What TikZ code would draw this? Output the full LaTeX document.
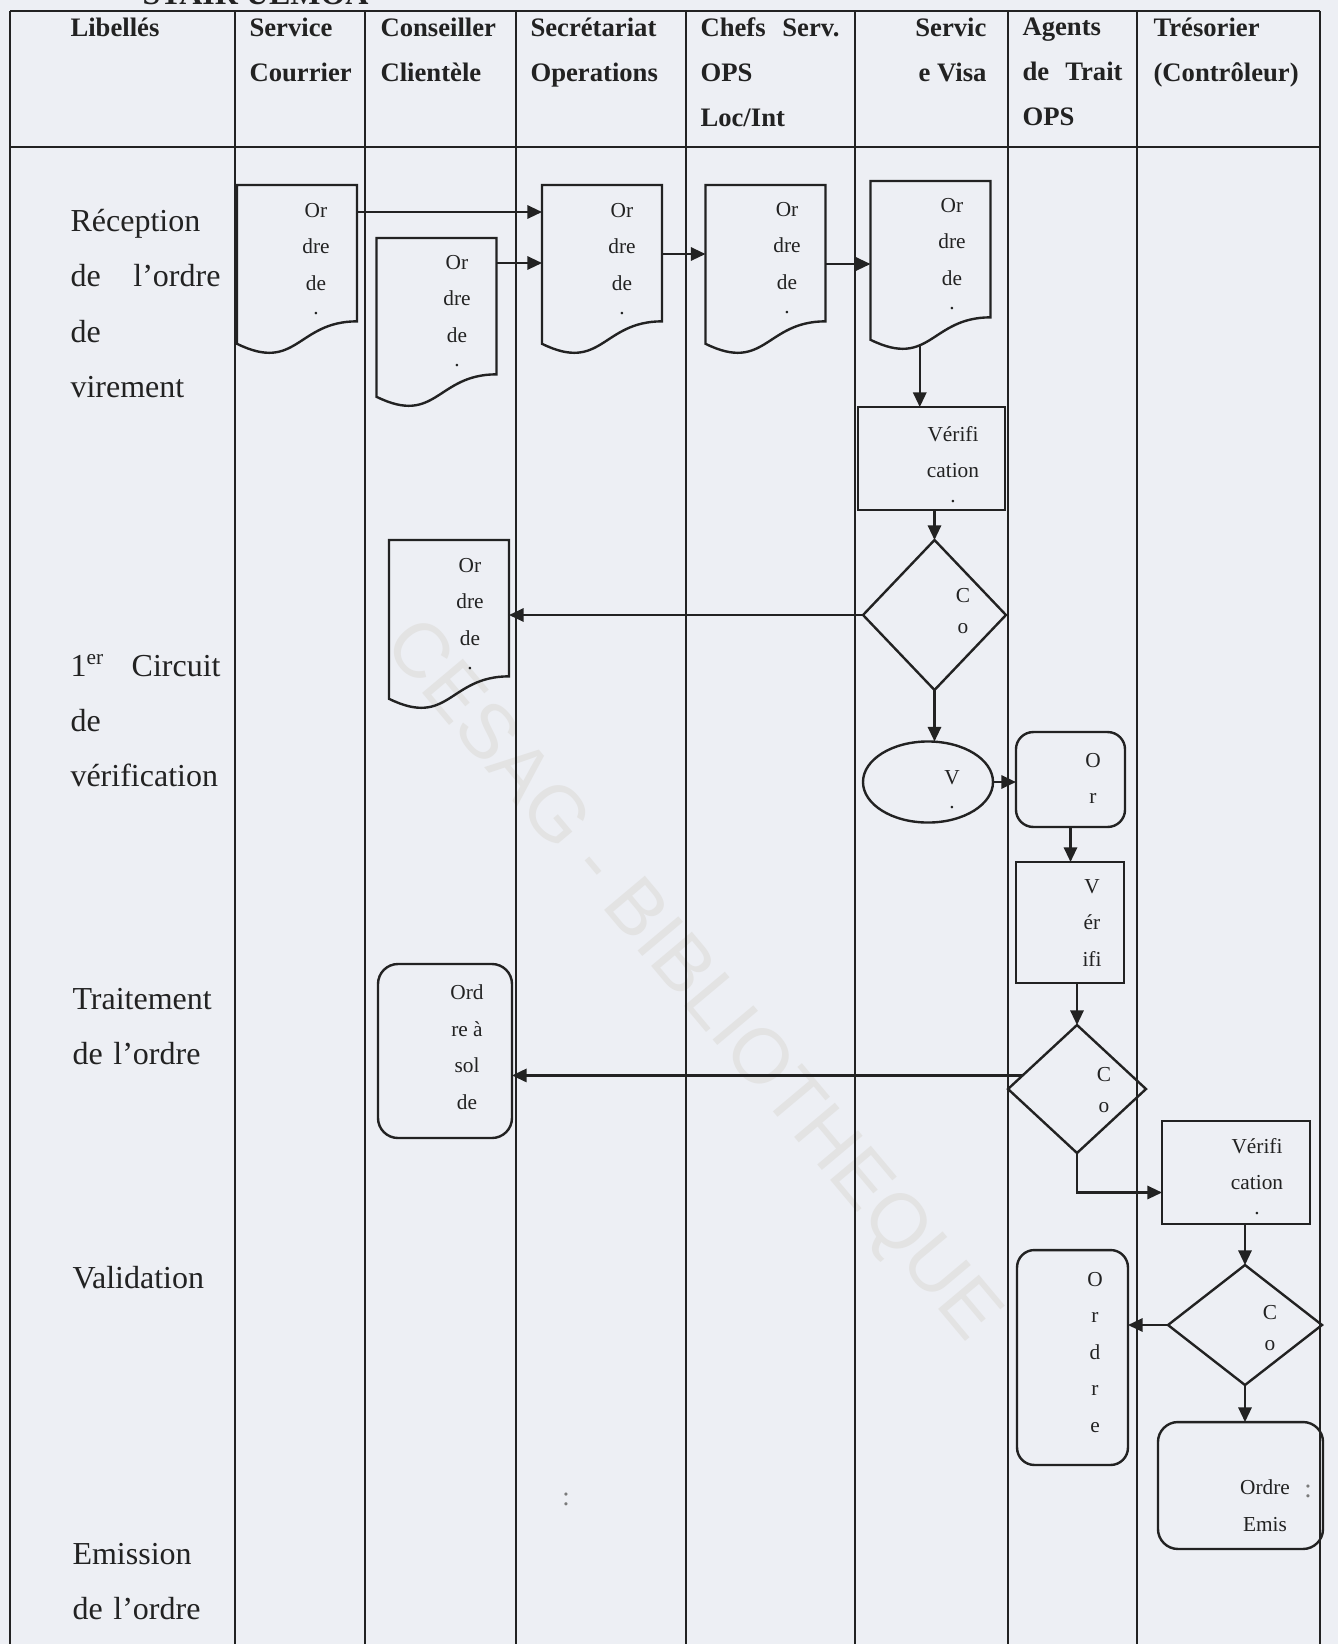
\documentclass[tikz,border=0pt]{standalone}
\usepackage{fontspec}
\setmainfont{Liberation Serif}
\newfontfamily\wmfont{Liberation Sans}
\usepackage{tikz}
\usetikzlibrary{positioning,arrows.meta,shapes.geometric,calc}
\definecolor{paper}{RGB}{237,239,244}
\definecolor{ink}{RGB}{34,34,34}
\newcommand{\docshape}[1]{%
  \draw[shp] (#1.north west) -- (#1.north east)
    -- ($(#1.north east)!0.802!(#1.south east)$)
    .. controls ($(#1.north)!0.802!(#1.south)$) and ($(#1.north)!1.107!(#1.south)$)
    .. coordinate[pos=0.617] (#1-foot) ($(#1.north west)!0.934!(#1.south west)$) -- cycle;}

\begin{document}
\begin{tikzpicture}[
  x=0.375pt, y=-0.375pt,
  tabline/.style={draw=ink,line width=0.8pt},
  shp/.style={draw=ink,line width=0.9pt},
  doc/.style={minimum width=45pt,minimum height=63.75pt,inner sep=0,outer sep=0},
  proc/.style={shp,rectangle,inner sep=0,outer sep=0},
  dec/.style={shp,diamond,inner sep=0,outer sep=0},
  oval/.style={shp,ellipse,inner sep=0,outer sep=0},
  term/.style={shp,rectangle,rounded corners=6.5pt,inner sep=0,outer sep=0},
  flow/.style={draw=ink,line width=0.8pt,-{Triangle[length=5.5pt,width=5pt]}},
  txt/.style={text=ink,font=\fontsize{8}{13.7}\selectfont,align=center,inner sep=0,anchor=north},
  dtxt/.style={txt,font=\fontsize{8}{11.7}\selectfont},
  hdr/.style={text=ink,font=\fontsize{10}{16.9}\selectfont\bfseries,align=left,inner sep=0,anchor=north west},
  lib/.style={text=ink,font=\fontsize{12}{20.7}\selectfont,align=left,text width=56.25pt,inner sep=0,anchor=north west},
  wm/.style={text=gray!22,font=\wmfont\fontsize{29}{36}\selectfont,rotate=-50,inner sep=0},
]
  \fill[paper] (0,0) rectangle (1338,1644);
  \useasboundingbox (0,0) rectangle (1338,1644);

  \node[wm] (wmk) at (690,982) {CESAG - BIBLIOTHEQUE};

  \node[text=ink,font=\fontsize{12}{14}\selectfont\bfseries,inner sep=0,anchor=base west] (ttl) at (142,4) {STAIR UEMOA};

  \foreach \x in {10,235,365,516,686,855,1008,1137,1320}
    \draw[tabline] (\x,11) -- (\x,1650);
  \draw[tabline] (10,11) -- (1320,11);
  \draw[tabline] (10,147) -- (1320,147);

  \node[hdr] (hLib) at (70,17) {Libellés};
  \node[hdr] (hCour) at (249,17) {Service\\Courrier};
  \node[hdr] (hCons) at (380,17) {Conseiller\\Clientèle};
  \node[hdr] (hSec) at (530,17) {Secrétariat\\Operations};
  \node[hdr,text width=52.1pt] (hChef) at (700,17) {Chefs\hfill Serv.\\OPS\\Loc/Int};
  \node[hdr,anchor=north east,align=right] (hVisa) at (987,17) {Servic\\e Visa};
  \node[hdr,text width=37.5pt] (hAgt) at (1022,17) {Agents\\de\hfill Trait\\OPS};
  \node[hdr] (hTres) at (1153,17) {Trésorier\\(Contrôleur)};

  \node[lib] (lRec) at (70,209) {Réception\\de\hfill l’ordre\\de\\virement};
  \node[lib] (lCirc) at (70,654) {1\textsuperscript{er}\hfill Circuit\\de\\vérification};
  \node[lib] (lTrt) at (72,988) {Traitement\\de l’ordre};
  \node[lib] (lVal) at (72,1266) {Validation};
  \node[lib] (lEmi) at (72,1543) {Emission\\de l’ordre};

  \node[doc] (docA) at (297,270) {};
  \node[doc] (docB) at (436.5,323) {};
  \node[doc] (docC) at (602,270) {};
  \node[doc] (docD) at (765.5,270) {};
  \node[doc] (docE) at (930.5,266) {};
  \node[doc] (docF) at (449,625) {};
  \docshape{docA}
  \docshape{docB}
  \docshape{docC}
  \docshape{docD}
  \docshape{docE}
  \docshape{docF}

  \node[proc,minimum width=55.1pt,minimum height=38.6pt] (v1) at (931.5,458.5) {};
  \node[dec,minimum width=53.6pt,minimum height=56.25pt] (d1) at (934.5,615) {};
  \node[oval,minimum width=48.75pt,minimum height=30.4pt] (ell) at (928,782) {};
  \node[term,minimum width=40.9pt,minimum height=35.6pt] (r1) at (1070.5,779.5) {};
  \node[proc,minimum width=40.5pt,minimum height=45.4pt] (v2) at (1070,922.5) {};
  \node[dec,minimum width=51.75pt,minimum height=48pt] (d2) at (1077,1089) {};
  \node[term,minimum width=50.25pt,minimum height=65.25pt,rounded corners=7.5pt] (sol) at (445,1051) {};
  \node[proc,minimum width=55.5pt,minimum height=38.6pt] (v3) at (1236,1172.5) {};
  \node[dec,minimum width=57.75pt,minimum height=45pt] (d3) at (1245,1325) {};
  \node[term,minimum width=41.6pt,minimum height=80.6pt] (r3) at (1072.5,1357.5) {};
  \node[term,minimum width=61.9pt,minimum height=47.6pt,rounded corners=7.5pt] (emis) at (1240.5,1485.5) {};

  \node[txt] (tA) at (316,202.5) {Or\\dre\\de\\[-4.5pt].};
  \node[txt] (tB) at (457,254.5) {Or\\dre\\de\\[-4.5pt].};
  \node[txt] (tC) at (622,202.5) {Or\\dre\\de\\[-4.5pt].};
  \node[txt] (tD) at (787,201.5) {Or\\dre\\de\\[-4.5pt].};
  \node[txt] (tE) at (952,197.5) {Or\\dre\\de\\[-4.5pt].};
  \node[txt] (tF) at (470,557.5) {Or\\dre\\de\\[-4.5pt].};
  \node[txt] (tV1) at (953,425.5) {Vérifi\\cation\\[-4.5pt].};
  \node[dtxt] (tD1) at (963,587.5) {C\\o};
  \node[txt] (tEll) at (952,769.5) {V\\[-4.5pt].};
  \node[txt] (tR1) at (1093,752.5) {O\\r};
  \node[txt] (tV2) at (1092,878.5) {V\\ér\\ifi};
  \node[dtxt] (tD2) at (1104,1066.5) {C\\o};
  \node[txt] (tSol) at (467,984.5) {Ord\\re à\\sol\\de};
  \node[txt] (tV3) at (1257,1137.5) {Vérifi\\cation\\[-4.5pt].};
  \node[dtxt] (tD3) at (1270,1304.5) {C\\o};
  \node[txt] (tR3) at (1095,1271.5) {O\\r\\d\\r\\e};
  \node[txt] (tEmis) at (1265,1479.5) {Ordre\\Emis};
  \node[txt,anchor=base,font=\fontsize{10}{12}\selectfont,text=ink!60] (sp1) at (1308,1497) {:};
  \node[txt,anchor=base,font=\fontsize{10}{12}\selectfont,text=ink!60] (sp2) at (566,1505) {:};

  \draw[flow] ($(docA.north east)+(0,27)$) -- ($(docC.north west)+(0,27)$);
  \draw[flow] ($(docB.north east)+(0,25)$) -- ($(docC.north west)+(0,78)$);
  \draw[flow] ($(docC.north east)+(0,69)$) -- ($(docD.north west)+(0,69)$);
  \draw[flow] ($(docD.north east)+(0,79)$) -- ($(docE.north west)+(0,83)$);
  \draw[flow] (docE-foot) -- (docE-foot |- v1.north);
  \draw[flow] (v1.south -| d1.north) -- (d1.north);
  \draw[flow] (d1.west) -- (d1.west -| docF.east);
  \draw[flow] (d1.south) -- (d1.south |- ell.north);
  \draw[flow] (ell.east) -- (ell.east -| r1.west);
  \draw[flow] (r1.south) -- (r1.south |- v2.north);
  \draw[flow] (v2.south -| d2.north) -- (d2.north);
  \draw[flow] (d2.166) -- (d2.166 -| sol.east);
  \draw[flow] (d2.south) |- ($(v3.west)+(0,20)$);
  \draw[flow] (v3.south -| d3.north) -- (d3.north);
  \draw[flow] (d3.west) -- (d3.west -| r3.east);
  \draw[flow] (d3.south) -- (d3.south |- emis.north);
\end{tikzpicture}
\end{document}
